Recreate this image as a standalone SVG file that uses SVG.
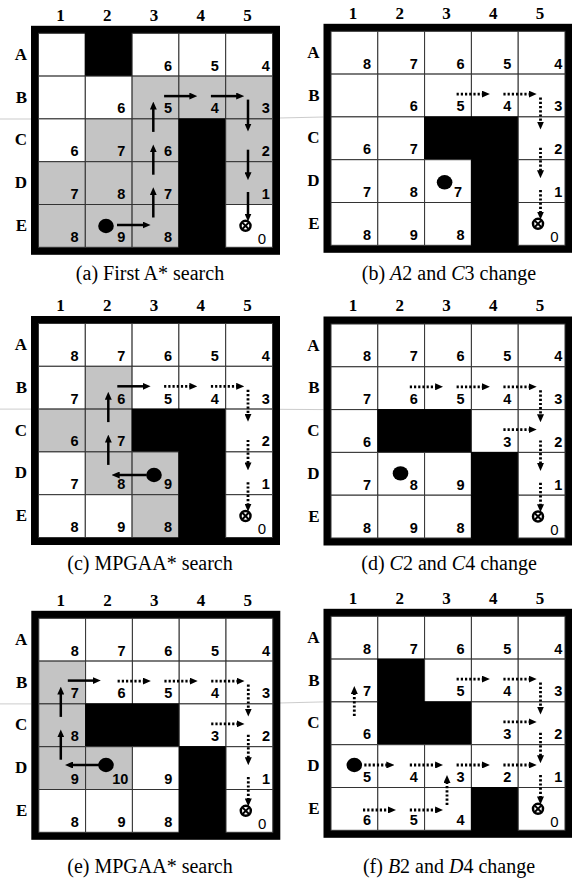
<svg xmlns="http://www.w3.org/2000/svg" xmlns:xlink="http://www.w3.org/1999/xlink" width="572" height="880" viewBox="0 0 572 880">
<style>
.w{fill:#fff;stroke:#333;stroke-width:1}
.g{fill:#c4c4c4;stroke:#333;stroke-width:1}
.k{fill:#000;stroke:#000;stroke-width:1}
.fr{fill:#000}
.fl{stroke:#aaa;stroke-width:0.6}
.n{font-family:"Liberation Sans",Arial,sans-serif;font-weight:bold;font-size:14.5px;text-anchor:end;fill:#000}
.z{font-family:"Liberation Sans",Arial,sans-serif;font-size:15px;text-anchor:end;fill:#000}
.h{font-family:"Liberation Serif","Times New Roman",serif;font-weight:bold;font-size:17px;text-anchor:middle;fill:#000}
.r{font-family:"Liberation Serif","Times New Roman",serif;font-weight:bold;font-size:17px;text-anchor:end;fill:#000}
.cap{font-family:"Liberation Serif","Times New Roman",serif;font-size:20px;text-anchor:middle;fill:#000}
.sa{stroke:#000;stroke-width:2.5;fill:none;marker-end:url(#ah)}
.da{stroke:#000;stroke-width:2.8;stroke-dasharray:2.2 2;fill:none;marker-end:url(#ah)}
.ag{fill:#000}
.gl{fill:none;stroke:#000;stroke-width:2.5}
.gx{stroke:#000;stroke-width:2}
</style>
<defs>
<rect id="c" width="46.8" height="42.8"/>
<marker id="ah" viewBox="0 0 8 7" refX="2" refY="3.5" markerWidth="8" markerHeight="7" markerUnits="userSpaceOnUse" orient="auto"><path d="M0,0 L8,3.5 L0,7 z" fill="#000"/></marker>
<g id="hdr">
<text class="h" x="22" y="-12.6">1</text><text class="h" x="68.7" y="-12.6">2</text><text class="h" x="115.5" y="-12.6">3</text><text class="h" x="162.3" y="-12.6">4</text><text class="h" x="209" y="-12.6">5</text>
<text class="r" x="-11.5" y="26.5">A</text><text class="r" x="-11.5" y="69.3">B</text><text class="r" x="-11.5" y="112.1">C</text><text class="r" x="-11.5" y="154.9">D</text><text class="r" x="-11.5" y="197.7">E</text>
</g>
<g id="goal">
<circle class="gl" cx="207" cy="192.5" r="5"/>
<line class="gx" x1="203.8" y1="189.3" x2="210.2" y2="195.7"/><line class="gx" x1="210.2" y1="189.3" x2="203.8" y2="195.7"/>
<text class="z" x="227.5" y="210.7">0</text>
</g>
</defs>

<g id="faint-lines">
<line class="fl" x1="0" y1="119" x2="31" y2="119"/><line class="fl" x1="279" y1="118" x2="323.5" y2="117"/>
<line class="fl" x1="0" y1="409.1" x2="31" y2="409.1"/><line class="fl" x1="279" y1="409.3" x2="323.5" y2="409.6"/>
<line class="fl" x1="0" y1="703.9" x2="31.3" y2="703.9"/><line class="fl" x1="279.3" y1="703" x2="323.5" y2="701.9"/>
</g>

<!-- Panel (a) -->
<g id="panel-a" transform="translate(38.5,33.3)">
<rect class="fr" x="-7.5" y="-7.5" width="249" height="229"/>
<g id="cells-a">
<use xlink:href="#c" class="w" x="0" y="0"/><use xlink:href="#c" class="k" x="46.8" y="0"/><use xlink:href="#c" class="w" x="93.6" y="0"/><use xlink:href="#c" class="w" x="140.4" y="0"/><use xlink:href="#c" class="w" x="187.2" y="0"/>
<use xlink:href="#c" class="w" x="0" y="42.8"/><use xlink:href="#c" class="w" x="46.8" y="42.8"/><use xlink:href="#c" class="g" x="93.6" y="42.8"/><use xlink:href="#c" class="g" x="140.4" y="42.8"/><use xlink:href="#c" class="g" x="187.2" y="42.8"/>
<use xlink:href="#c" class="w" x="0" y="85.6"/><use xlink:href="#c" class="g" x="46.8" y="85.6"/><use xlink:href="#c" class="g" x="93.6" y="85.6"/><use xlink:href="#c" class="k" x="140.4" y="85.6"/><use xlink:href="#c" class="g" x="187.2" y="85.6"/>
<use xlink:href="#c" class="g" x="0" y="128.4"/><use xlink:href="#c" class="g" x="46.8" y="128.4"/><use xlink:href="#c" class="g" x="93.6" y="128.4"/><use xlink:href="#c" class="k" x="140.4" y="128.4"/><use xlink:href="#c" class="g" x="187.2" y="128.4"/>
<use xlink:href="#c" class="g" x="0" y="171.2"/><use xlink:href="#c" class="g" x="46.8" y="171.2"/><use xlink:href="#c" class="g" x="93.6" y="171.2"/><use xlink:href="#c" class="k" x="140.4" y="171.2"/><use xlink:href="#c" class="w" x="187.2" y="171.2"/>
</g>
<use xlink:href="#hdr"/>
<g id="values-a">
<text class="n" x="133.6" y="37.3">6</text><text class="n" x="180.4" y="37.3">5</text><text class="n" x="231.3" y="37.3">4</text>
<text class="n" x="86.8" y="80.1">6</text><text class="n" x="133.6" y="80.1">5</text><text class="n" x="180.4" y="80.1">4</text><text class="n" x="231.3" y="80.1">3</text>
<text class="n" x="40" y="122.9">6</text><text class="n" x="86.8" y="122.9">7</text><text class="n" x="133.6" y="122.9">6</text><text class="n" x="231.3" y="122.9">2</text>
<text class="n" x="40" y="165.7">7</text><text class="n" x="86.8" y="165.7">8</text><text class="n" x="133.6" y="165.7">7</text><text class="n" x="231.3" y="165.7">1</text>
<text class="n" x="40" y="208.5">8</text><text class="n" x="86.8" y="208.5">9</text><text class="n" x="133.6" y="208.5">8</text>
</g>
<g id="connectors-a">
<line class="sa" x1="78.5" y1="191.7" x2="106.1" y2="191.7"/>
<line class="sa" x1="114.8" y1="184.2" x2="114.8" y2="159.9"/>
<line class="sa" x1="114.8" y1="141.4" x2="114.8" y2="117.1"/>
<line class="sa" x1="114.8" y1="98.6" x2="114.8" y2="74.3"/>
<line class="sa" x1="125.6" y1="62.8" x2="152.9" y2="62.8"/>
<line class="sa" x1="172.4" y1="62.8" x2="199.7" y2="62.8"/>
<line class="sa" x1="209.5" y1="66.3" x2="209.5" y2="92.3"/>
<line class="sa" x1="209.5" y1="116.4" x2="209.5" y2="140.9"/>
<line class="sa" x1="209.5" y1="158.7" x2="209.5" y2="182.2"/>
</g>
<ellipse id="agent-a" class="ag" cx="67.5" cy="192.7" rx="7.8" ry="7.2"/>
<use id="goal-a" xlink:href="#goal"/>
</g>
<text class="cap" x="150" y="280">(a) First A* search</text>

<!-- Panel (b) -->
<g id="panel-b" transform="translate(331,31.3)">
<rect class="fr" x="-7.5" y="-7.5" width="249" height="229"/>
<g id="cells-b">
<use xlink:href="#c" class="w" x="0" y="0"/><use xlink:href="#c" class="w" x="46.8" y="0"/><use xlink:href="#c" class="w" x="93.6" y="0"/><use xlink:href="#c" class="w" x="140.4" y="0"/><use xlink:href="#c" class="w" x="187.2" y="0"/>
<use xlink:href="#c" class="w" x="0" y="42.8"/><use xlink:href="#c" class="w" x="46.8" y="42.8"/><use xlink:href="#c" class="w" x="93.6" y="42.8"/><use xlink:href="#c" class="w" x="140.4" y="42.8"/><use xlink:href="#c" class="w" x="187.2" y="42.8"/>
<use xlink:href="#c" class="w" x="0" y="85.6"/><use xlink:href="#c" class="w" x="46.8" y="85.6"/><use xlink:href="#c" class="k" x="93.6" y="85.6"/><use xlink:href="#c" class="k" x="140.4" y="85.6"/><use xlink:href="#c" class="w" x="187.2" y="85.6"/>
<use xlink:href="#c" class="w" x="0" y="128.4"/><use xlink:href="#c" class="w" x="46.8" y="128.4"/><use xlink:href="#c" class="w" x="93.6" y="128.4"/><use xlink:href="#c" class="k" x="140.4" y="128.4"/><use xlink:href="#c" class="w" x="187.2" y="128.4"/>
<use xlink:href="#c" class="w" x="0" y="171.2"/><use xlink:href="#c" class="w" x="46.8" y="171.2"/><use xlink:href="#c" class="w" x="93.6" y="171.2"/><use xlink:href="#c" class="k" x="140.4" y="171.2"/><use xlink:href="#c" class="w" x="187.2" y="171.2"/>
</g>
<use xlink:href="#hdr"/>
<g id="values-b">
<text class="n" x="40" y="37.3">8</text><text class="n" x="86.8" y="37.3">7</text><text class="n" x="133.6" y="37.3">6</text><text class="n" x="180.4" y="37.3">5</text><text class="n" x="231.3" y="37.3">4</text>
<text class="n" x="86.8" y="80.1">6</text><text class="n" x="133.6" y="80.1">5</text><text class="n" x="180.4" y="80.1">4</text><text class="n" x="231.3" y="80.1">3</text>
<text class="n" x="40" y="122.9">6</text><text class="n" x="86.8" y="122.9">7</text><text class="n" x="231.3" y="122.9">2</text>
<text class="n" x="40" y="165.7">7</text><text class="n" x="86.8" y="165.7">8</text><text class="n" x="131" y="165.7">7</text><text class="n" x="231.3" y="165.7">1</text>
<text class="n" x="40" y="208.5">8</text><text class="n" x="86.8" y="208.5">9</text><text class="n" x="133.6" y="208.5">8</text>
</g>
<g id="connectors-b">
<line class="da" x1="125.6" y1="62.8" x2="152.9" y2="62.8"/>
<line class="da" x1="172.4" y1="62.8" x2="199.7" y2="62.8"/>
<line class="da" x1="209.5" y1="66.3" x2="209.5" y2="92.3"/>
<line class="da" x1="209.5" y1="116.4" x2="209.5" y2="140.9"/>
<line class="da" x1="209.5" y1="158.7" x2="209.5" y2="182.2"/>
</g>
<ellipse id="agent-b" class="ag" cx="113.6" cy="151" rx="7.8" ry="7.2"/>
<use id="goal-b" xlink:href="#goal"/>
</g>
<text class="cap" x="449" y="280">(b) <tspan font-style="italic">A</tspan>2 and <tspan font-style="italic">C</tspan>3 change</text>

<!-- Panel (c) -->
<g id="panel-c" transform="translate(38.5,323.5)">
<rect class="fr" x="-7.5" y="-7.5" width="249" height="229"/>
<g id="cells-c">
<use xlink:href="#c" class="w" x="0" y="0"/><use xlink:href="#c" class="w" x="46.8" y="0"/><use xlink:href="#c" class="w" x="93.6" y="0"/><use xlink:href="#c" class="w" x="140.4" y="0"/><use xlink:href="#c" class="w" x="187.2" y="0"/>
<use xlink:href="#c" class="w" x="0" y="42.8"/><use xlink:href="#c" class="g" x="46.8" y="42.8"/><use xlink:href="#c" class="w" x="93.6" y="42.8"/><use xlink:href="#c" class="w" x="140.4" y="42.8"/><use xlink:href="#c" class="w" x="187.2" y="42.8"/>
<use xlink:href="#c" class="g" x="0" y="85.6"/><use xlink:href="#c" class="g" x="46.8" y="85.6"/><use xlink:href="#c" class="k" x="93.6" y="85.6"/><use xlink:href="#c" class="k" x="140.4" y="85.6"/><use xlink:href="#c" class="w" x="187.2" y="85.6"/>
<use xlink:href="#c" class="w" x="0" y="128.4"/><use xlink:href="#c" class="g" x="46.8" y="128.4"/><use xlink:href="#c" class="g" x="93.6" y="128.4"/><use xlink:href="#c" class="k" x="140.4" y="128.4"/><use xlink:href="#c" class="w" x="187.2" y="128.4"/>
<use xlink:href="#c" class="w" x="0" y="171.2"/><use xlink:href="#c" class="w" x="46.8" y="171.2"/><use xlink:href="#c" class="g" x="93.6" y="171.2"/><use xlink:href="#c" class="k" x="140.4" y="171.2"/><use xlink:href="#c" class="w" x="187.2" y="171.2"/>
</g>
<use xlink:href="#hdr"/>
<g id="values-c">
<text class="n" x="40" y="37.3">8</text><text class="n" x="86.8" y="37.3">7</text><text class="n" x="133.6" y="37.3">6</text><text class="n" x="180.4" y="37.3">5</text><text class="n" x="231.3" y="37.3">4</text>
<text class="n" x="40" y="80.1">7</text><text class="n" x="86.8" y="80.1">6</text><text class="n" x="133.6" y="80.1">5</text><text class="n" x="180.4" y="80.1">4</text><text class="n" x="231.3" y="80.1">3</text>
<text class="n" x="40" y="122.9">6</text><text class="n" x="86.8" y="122.9">7</text><text class="n" x="231.3" y="122.9">2</text>
<text class="n" x="40" y="165.7">7</text><text class="n" x="86.8" y="165.7">8</text><text class="n" x="133.6" y="165.7">9</text><text class="n" x="231.3" y="165.7">1</text>
<text class="n" x="40" y="208.5">8</text><text class="n" x="86.8" y="208.5">9</text><text class="n" x="133.6" y="208.5">8</text>
</g>
<g id="connectors-c">
<line class="sa" x1="108.2" y1="151.5" x2="79.2" y2="151.5"/>
<line class="sa" x1="69.8" y1="141.4" x2="69.8" y2="117.1"/>
<line class="sa" x1="69.8" y1="98.6" x2="69.8" y2="74.3"/>
<line class="sa" x1="78.8" y1="62.8" x2="106.1" y2="62.8"/>
<line class="da" x1="125.6" y1="62.8" x2="152.9" y2="62.8"/>
<line class="da" x1="172.4" y1="62.8" x2="199.7" y2="62.8"/>
<line class="da" x1="209.5" y1="66.3" x2="209.5" y2="92.3"/>
<line class="da" x1="209.5" y1="116.4" x2="209.5" y2="140.9"/>
<line class="da" x1="209.5" y1="158.7" x2="209.5" y2="182.2"/>
</g>
<ellipse id="agent-c" class="ag" cx="115.5" cy="151.5" rx="7.8" ry="7.2"/>
<use id="goal-c" xlink:href="#goal"/>
</g>
<text class="cap" x="150" y="570">(c) MPGAA* search</text>

<!-- Panel (d) -->
<g id="panel-d" transform="translate(331,324)">
<rect class="fr" x="-7.5" y="-7.5" width="249" height="229"/>
<g id="cells-d">
<use xlink:href="#c" class="w" x="0" y="0"/><use xlink:href="#c" class="w" x="46.8" y="0"/><use xlink:href="#c" class="w" x="93.6" y="0"/><use xlink:href="#c" class="w" x="140.4" y="0"/><use xlink:href="#c" class="w" x="187.2" y="0"/>
<use xlink:href="#c" class="w" x="0" y="42.8"/><use xlink:href="#c" class="w" x="46.8" y="42.8"/><use xlink:href="#c" class="w" x="93.6" y="42.8"/><use xlink:href="#c" class="w" x="140.4" y="42.8"/><use xlink:href="#c" class="w" x="187.2" y="42.8"/>
<use xlink:href="#c" class="w" x="0" y="85.6"/><use xlink:href="#c" class="k" x="46.8" y="85.6"/><use xlink:href="#c" class="k" x="93.6" y="85.6"/><use xlink:href="#c" class="w" x="140.4" y="85.6"/><use xlink:href="#c" class="w" x="187.2" y="85.6"/>
<use xlink:href="#c" class="w" x="0" y="128.4"/><use xlink:href="#c" class="w" x="46.8" y="128.4"/><use xlink:href="#c" class="w" x="93.6" y="128.4"/><use xlink:href="#c" class="k" x="140.4" y="128.4"/><use xlink:href="#c" class="w" x="187.2" y="128.4"/>
<use xlink:href="#c" class="w" x="0" y="171.2"/><use xlink:href="#c" class="w" x="46.8" y="171.2"/><use xlink:href="#c" class="w" x="93.6" y="171.2"/><use xlink:href="#c" class="k" x="140.4" y="171.2"/><use xlink:href="#c" class="w" x="187.2" y="171.2"/>
</g>
<use xlink:href="#hdr"/>
<g id="values-d">
<text class="n" x="40" y="37.3">8</text><text class="n" x="86.8" y="37.3">7</text><text class="n" x="133.6" y="37.3">6</text><text class="n" x="180.4" y="37.3">5</text><text class="n" x="231.3" y="37.3">4</text>
<text class="n" x="40" y="80.1">7</text><text class="n" x="86.8" y="80.1">6</text><text class="n" x="133.6" y="80.1">5</text><text class="n" x="180.4" y="80.1">4</text><text class="n" x="231.3" y="80.1">3</text>
<text class="n" x="40" y="122.9">6</text><text class="n" x="180.4" y="122.9">3</text><text class="n" x="231.3" y="122.9">2</text>
<text class="n" x="40" y="165.7">7</text><text class="n" x="86.8" y="165.7">8</text><text class="n" x="133.6" y="165.7">9</text><text class="n" x="231.3" y="165.7">1</text>
<text class="n" x="40" y="208.5">8</text><text class="n" x="86.8" y="208.5">9</text><text class="n" x="133.6" y="208.5">8</text>
</g>
<g id="connectors-d">
<line class="da" x1="78.8" y1="62.8" x2="106.1" y2="62.8"/>
<line class="da" x1="125.6" y1="62.8" x2="152.9" y2="62.8"/>
<line class="da" x1="172.4" y1="62.8" x2="199.7" y2="62.8"/>
<line class="da" x1="209.5" y1="66.3" x2="209.5" y2="92.3"/>
<line class="da" x1="172.4" y1="105.6" x2="199.7" y2="105.6"/>
<line class="da" x1="209.5" y1="116.4" x2="209.5" y2="140.9"/>
<line class="da" x1="209.5" y1="158.7" x2="209.5" y2="182.2"/>
</g>
<ellipse id="agent-d" class="ag" cx="69.5" cy="149.4" rx="7.8" ry="7.2"/>
<use id="goal-d" xlink:href="#goal"/>
</g>
<text class="cap" x="449" y="570">(d) <tspan font-style="italic">C</tspan>2 and <tspan font-style="italic">C</tspan>4 change</text>

<!-- Panel (e) -->
<g id="panel-e" transform="translate(38.8,618.3)">
<rect class="fr" x="-7.5" y="-7.5" width="249" height="229"/>
<g id="cells-e">
<use xlink:href="#c" class="w" x="0" y="0"/><use xlink:href="#c" class="w" x="46.8" y="0"/><use xlink:href="#c" class="w" x="93.6" y="0"/><use xlink:href="#c" class="w" x="140.4" y="0"/><use xlink:href="#c" class="w" x="187.2" y="0"/>
<use xlink:href="#c" class="g" x="0" y="42.8"/><use xlink:href="#c" class="w" x="46.8" y="42.8"/><use xlink:href="#c" class="w" x="93.6" y="42.8"/><use xlink:href="#c" class="w" x="140.4" y="42.8"/><use xlink:href="#c" class="w" x="187.2" y="42.8"/>
<use xlink:href="#c" class="g" x="0" y="85.6"/><use xlink:href="#c" class="k" x="46.8" y="85.6"/><use xlink:href="#c" class="k" x="93.6" y="85.6"/><use xlink:href="#c" class="w" x="140.4" y="85.6"/><use xlink:href="#c" class="w" x="187.2" y="85.6"/>
<use xlink:href="#c" class="g" x="0" y="128.4"/><use xlink:href="#c" class="g" x="46.8" y="128.4"/><use xlink:href="#c" class="w" x="93.6" y="128.4"/><use xlink:href="#c" class="k" x="140.4" y="128.4"/><use xlink:href="#c" class="w" x="187.2" y="128.4"/>
<use xlink:href="#c" class="w" x="0" y="171.2"/><use xlink:href="#c" class="w" x="46.8" y="171.2"/><use xlink:href="#c" class="w" x="93.6" y="171.2"/><use xlink:href="#c" class="k" x="140.4" y="171.2"/><use xlink:href="#c" class="w" x="187.2" y="171.2"/>
</g>
<use xlink:href="#hdr"/>
<g id="values-e">
<text class="n" x="40" y="37.3">8</text><text class="n" x="86.8" y="37.3">7</text><text class="n" x="133.6" y="37.3">6</text><text class="n" x="180.4" y="37.3">5</text><text class="n" x="231.3" y="37.3">4</text>
<text class="n" x="40" y="80.1">7</text><text class="n" x="86.8" y="80.1">6</text><text class="n" x="133.6" y="80.1">5</text><text class="n" x="180.4" y="80.1">4</text><text class="n" x="231.3" y="80.1">3</text>
<text class="n" x="40" y="122.9">8</text><text class="n" x="180.4" y="122.9">3</text><text class="n" x="231.3" y="122.9">2</text>
<text class="n" x="40" y="165.7">9</text><text class="n" x="89.5" y="165.7">10</text><text class="n" x="133.6" y="165.7">9</text><text class="n" x="231.3" y="165.7">1</text>
<text class="n" x="40" y="208.5">8</text><text class="n" x="86.8" y="208.5">9</text><text class="n" x="133.6" y="208.5">8</text>
</g>
<g id="connectors-e">
<line class="sa" x1="61.2" y1="146.7" x2="32.2" y2="146.7"/>
<line class="sa" x1="22" y1="141.4" x2="22" y2="117.1"/>
<line class="sa" x1="22" y1="98.6" x2="22" y2="74.3"/>
<line class="sa" x1="29" y1="62.3" x2="56" y2="62.3"/>
<line class="da" x1="78.8" y1="62.8" x2="106.1" y2="62.8"/>
<line class="da" x1="125.6" y1="62.8" x2="152.9" y2="62.8"/>
<line class="da" x1="172.4" y1="62.8" x2="199.7" y2="62.8"/>
<line class="da" x1="209.5" y1="66.3" x2="209.5" y2="92.3"/>
<line class="da" x1="172.4" y1="105.6" x2="199.7" y2="105.6"/>
<line class="da" x1="209.5" y1="116.4" x2="209.5" y2="140.9"/>
<line class="da" x1="209.5" y1="158.7" x2="209.5" y2="182.2"/>
</g>
<ellipse id="agent-e" class="ag" cx="67.2" cy="146.7" rx="7.8" ry="7.2"/>
<use id="goal-e" xlink:href="#goal"/>
</g>
<text class="cap" x="150" y="873">(e) MPGAA* search</text>

<!-- Panel (f) -->
<g id="panel-f" transform="translate(331,616.3)">
<rect class="fr" x="-7.5" y="-7.5" width="249" height="229"/>
<g id="cells-f">
<use xlink:href="#c" class="w" x="0" y="0"/><use xlink:href="#c" class="w" x="46.8" y="0"/><use xlink:href="#c" class="w" x="93.6" y="0"/><use xlink:href="#c" class="w" x="140.4" y="0"/><use xlink:href="#c" class="w" x="187.2" y="0"/>
<use xlink:href="#c" class="w" x="0" y="42.8"/><use xlink:href="#c" class="k" x="46.8" y="42.8"/><use xlink:href="#c" class="w" x="93.6" y="42.8"/><use xlink:href="#c" class="w" x="140.4" y="42.8"/><use xlink:href="#c" class="w" x="187.2" y="42.8"/>
<use xlink:href="#c" class="w" x="0" y="85.6"/><use xlink:href="#c" class="k" x="46.8" y="85.6"/><use xlink:href="#c" class="k" x="93.6" y="85.6"/><use xlink:href="#c" class="w" x="140.4" y="85.6"/><use xlink:href="#c" class="w" x="187.2" y="85.6"/>
<use xlink:href="#c" class="w" x="0" y="128.4"/><use xlink:href="#c" class="w" x="46.8" y="128.4"/><use xlink:href="#c" class="w" x="93.6" y="128.4"/><use xlink:href="#c" class="w" x="140.4" y="128.4"/><use xlink:href="#c" class="w" x="187.2" y="128.4"/>
<use xlink:href="#c" class="w" x="0" y="171.2"/><use xlink:href="#c" class="w" x="46.8" y="171.2"/><use xlink:href="#c" class="w" x="93.6" y="171.2"/><use xlink:href="#c" class="k" x="140.4" y="171.2"/><use xlink:href="#c" class="w" x="187.2" y="171.2"/>
</g>
<use xlink:href="#hdr"/>
<g id="values-f">
<text class="n" x="40" y="37.3">8</text><text class="n" x="86.8" y="37.3">7</text><text class="n" x="133.6" y="37.3">6</text><text class="n" x="180.4" y="37.3">5</text><text class="n" x="231.3" y="37.3">4</text>
<text class="n" x="40" y="80.1">7</text><text class="n" x="133.6" y="80.1">5</text><text class="n" x="180.4" y="80.1">4</text><text class="n" x="231.3" y="80.1">3</text>
<text class="n" x="40" y="122.9">6</text><text class="n" x="180.4" y="122.9">3</text><text class="n" x="231.3" y="122.9">2</text>
<text class="n" x="40" y="165.7">5</text><text class="n" x="86.8" y="165.7">4</text><text class="n" x="133.6" y="165.7">3</text><text class="n" x="180.4" y="165.7">2</text><text class="n" x="231.3" y="165.7">1</text>
<text class="n" x="40" y="208.5">6</text><text class="n" x="86.8" y="208.5">5</text><text class="n" x="133.6" y="208.5">4</text>
</g>
<g id="connectors-f">
<line class="da" x1="23.3" y1="99.7" x2="23.3" y2="75.7"/>
<line class="da" x1="125.6" y1="62.8" x2="152.9" y2="62.8"/>
<line class="da" x1="172.4" y1="62.8" x2="199.7" y2="62.8"/>
<line class="da" x1="209.5" y1="66.3" x2="209.5" y2="92.3"/>
<line class="da" x1="172.4" y1="105.6" x2="199.7" y2="105.6"/>
<line class="da" x1="209.5" y1="116.4" x2="209.5" y2="140.9"/>
<line class="da" x1="33.3" y1="148.7" x2="57.3" y2="148.7"/>
<line class="da" x1="78.8" y1="148.7" x2="106.1" y2="148.7"/>
<line class="da" x1="125.6" y1="148.7" x2="152.9" y2="148.7"/>
<line class="da" x1="172.4" y1="148.7" x2="199.7" y2="148.7"/>
<line class="da" x1="209.5" y1="158.7" x2="209.5" y2="182.2"/>
<line class="da" x1="32" y1="193.7" x2="59" y2="193.7"/>
<line class="da" x1="78.8" y1="193.7" x2="106.1" y2="193.7"/>
<line class="da" x1="116" y1="188.7" x2="116" y2="164.7"/>
</g>
<ellipse id="agent-f" class="ag" cx="23.3" cy="148.7" rx="7.8" ry="7.2"/>
<use id="goal-f" xlink:href="#goal"/>
</g>
<text class="cap" x="449" y="873">(f) <tspan font-style="italic">B</tspan>2 and <tspan font-style="italic">D</tspan>4 change</text>
</svg>
